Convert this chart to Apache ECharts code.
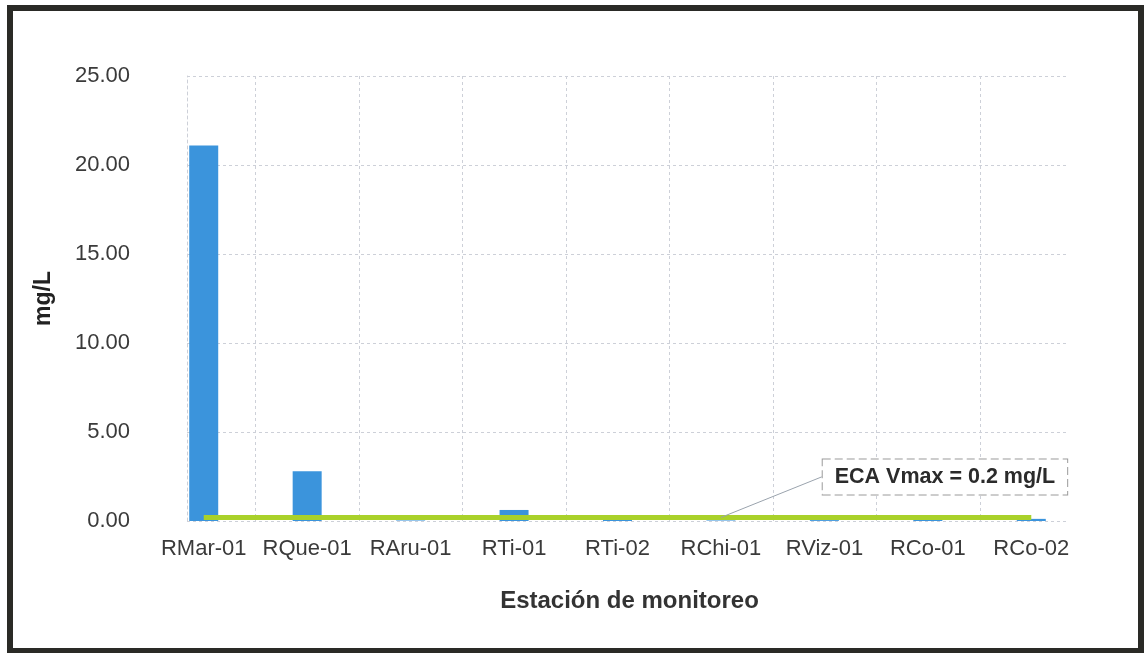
<!DOCTYPE html>
<html>
<head>
<meta charset="utf-8">
<script src="https://cdn.jsdelivr.net/npm/echarts@6/dist/echarts.min.js"></script>
<style>
  html, body { margin: 0; padding: 0; background: #fff; }
  #chart { width: 1144px; height: 653px; }
</style>
</head>
<body>
<div id="chart"></div>
<script>
// estaciones de monitoreo
var estaciones = ['RMar-01', 'RQue-01', 'RAru-01', 'RTi-01', 'RTi-02', 'RChi-01', 'RViz-01', 'RCo-01', 'RCo-02']
// concentración medida (mg/L)
var concentracion = [21.1, 2.8, 0.03, 0.62, 0.08, 0.03, 0.05, 0.08, 0.12]
// límite ECA
var eca = [0.2, 0.2, 0.2, 0.2, 0.2, 0.2, 0.2, 0.2, 0.2]
var ecaTexto = 'ECA Vmax = 0.2 mg/L'
var ecaIndice = 5
var yTicks = [0, 5, 10, 15, 20, 25]

var chart = echarts.init(document.getElementById('chart'))

var gridLine = { color: '#cdd0d8', type: [3, 3], width: 1 }

var ecaData = eca.map(function(v, i) {
  if (i === ecaIndice) {
    return {
      value: v,
      label: {
        show: true,
        formatter: ecaTexto,
        fontFamily: 'Liberation Sans',
        fontSize: 21.5,
        fontWeight: 'bold',
        color: '#2b2b2b',
        backgroundColor: '#fff',
        borderColor: '#9a9a9a',
        borderType: 'dashed',
        borderWidth: 1,
        padding: [7, 12, 6, 12]
      }
    }
  }
  return v
})

var option = {
  animation: false,
  graphic: [{
    type: 'rect',
    shape: { x: 10, y: 8, width: 1131, height: 643 },
    style: { fill: 'none', stroke: '#2a2a26', lineWidth: 6 },
    silent: true
  }],
  grid: [
    { left: 152, right: 61, top: 76, bottom: 132 },
    { left: 187, right: 76, top: 76, bottom: 132 },
    // líneas verticales entre estaciones
    { left: 255.25, right: 164.25, top: 76, bottom: 132 }
  ],
  xAxis: [{
    type: 'category',
    gridIndex: 0,
    data: estaciones,
    axisLine: { show: false },
    axisTick: { show: false },
    axisLabel: {
      fontFamily: 'Liberation Sans',
      fontSize: 22,
      color: '#3a3a3a',
      margin: 17,
      interval: 0
    },
    splitLine: { show: false },
    name: 'Estación de monitoreo',
    nameLocation: 'middle',
    nameGap: 68,
    nameTextStyle: {
      fontFamily: 'Liberation Sans',
      fontSize: 24,
      fontWeight: 'bold',
      color: '#333',
      padding: [0, 0, 0, 24]
    }
  }, {
    type: 'value',
    gridIndex: 1,
    min: 0,
    max: 1,
    axisLine: { show: false },
    axisTick: { show: false },
    axisLabel: { show: false },
    splitLine: { show: false }
  }, {
    type: 'category',
    gridIndex: 2,
    boundaryGap: false,
    data: estaciones.slice(1),
    axisLine: { show: false },
    axisTick: { show: false },
    axisLabel: { show: false },
    splitLine: { show: true, interval: 0, lineStyle: gridLine }
  }],
  yAxis: [{
    type: 'value',
    gridIndex: 0,
    min: yTicks[0],
    max: yTicks[yTicks.length - 1],
    interval: 5,
    axisLine: { show: false },
    axisTick: { show: false },
    splitLine: { show: false },
    axisLabel: {
      fontFamily: 'Liberation Sans',
      fontSize: 22,
      color: '#3a3a3a',
      margin: 22,
      formatter: function(v) { return v.toFixed(2) }
    },
    name: 'mg/L',
    nameLocation: 'middle',
    nameRotate: 90,
    nameGap: 97,
    nameTextStyle: {
      fontFamily: 'Liberation Sans',
      fontSize: 23,
      fontWeight: 'bold',
      color: '#222'
    }
  }, {
    type: 'value',
    gridIndex: 1,
    min: yTicks[0],
    max: yTicks[yTicks.length - 1],
    interval: 5,
    axisLine: { show: true, lineStyle: gridLine },
    axisTick: { show: false },
    axisLabel: { show: false },
    splitLine: { show: true, lineStyle: gridLine }
  }, {
    type: 'value',
    gridIndex: 2,
    min: 0,
    max: 1,
    show: false
  }],
  series: [{
    name: 'Concentración',
    type: 'bar',
    xAxisIndex: 0,
    yAxisIndex: 0,
    barWidth: 29,
    itemStyle: { color: '#3b94dc' },
    data: concentracion
  }, {
    name: 'ECA',
    type: 'line',
    xAxisIndex: 0,
    yAxisIndex: 0,
    symbol: 'circle',
    symbolSize: 0.1,
    showSymbol: true,
    itemStyle: { color: '#a9d12a' },
    lineStyle: { color: '#a9d12a', width: 5 },
    label: { show: false },
    labelLine: { show: true, lineStyle: { color: '#9aa3ad', width: 1 } },
    labelLayout: function(p) {
      if (p.dataIndex === ecaIndice) return { dx: 224, dy: -18 }
      return {}
    },
    data: ecaData
  }]
}

chart.setOption(option)
</script>
</body>
</html>
